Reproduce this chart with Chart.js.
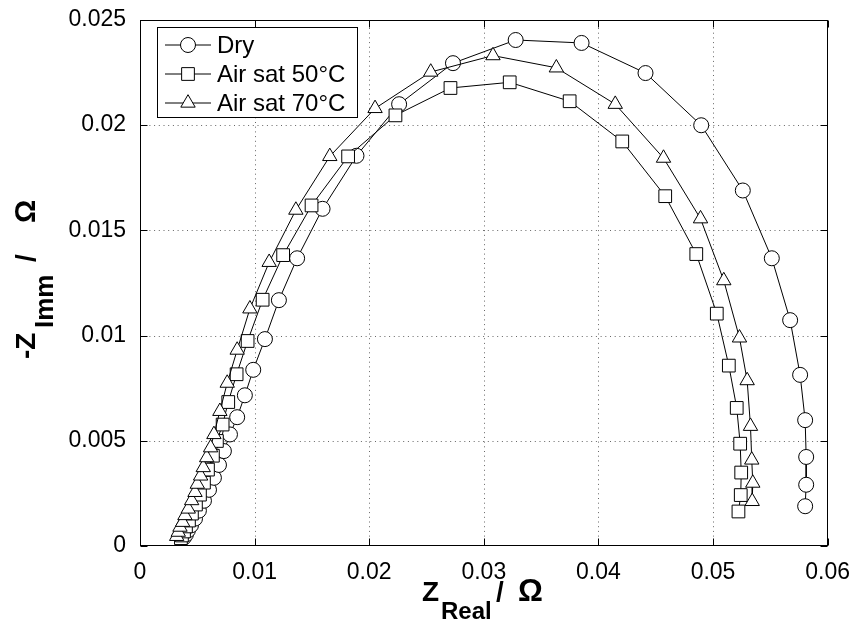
<!DOCTYPE html>
<html>
<head>
<meta charset="utf-8">
<title>Nyquist plot</title>
<script src="https://cdn.jsdelivr.net/npm/chart.js@4"></script>
<style>
  body { margin: 0; background: #fff; }
  #wrap { width: 855px; height: 626px; }
</style>
</head>
<body>
<div id="wrap"><canvas id="nyquist" width="855" height="626"></canvas></div>
<script>

// =============================
// Data
// =============================

const seriesLabels = ['Dry', 'Air sat 50°C', 'Air sat 70°C'];

const dryX = [0.00384, 0.00401, 0.00418, 0.00445, 0.0048, 0.00514, 0.00558, 0.00602, 0.00645, 0.00689, 0.00732, 0.00785,
    0.00848, 0.00915, 0.00988, 0.0109, 0.01212, 0.01371, 0.01593, 0.01889, 0.02261, 0.02731, 0.03278, 0.03853,
    0.04411, 0.04897, 0.0526, 0.05513, 0.05673, 0.0576, 0.05804, 0.05813, 0.05813, 0.05804];
const dryY = [0.00041, 0.00055, 0.00074, 0.00098, 0.0013, 0.00168, 0.00215, 0.00267, 0.00324, 0.00385, 0.00451, 0.0053,
    0.00612, 0.00716, 0.00837, 0.00983, 0.01168, 0.01367, 0.01602, 0.01854, 0.02099, 0.02294, 0.02404, 0.0239,
    0.02247, 0.01999, 0.01689, 0.01367, 0.01073, 0.00813, 0.00598, 0.00423, 0.00291, 0.00189];

const sat50X = [0.00357, 0.00366, 0.00384, 0.00401, 0.00427, 0.00453, 0.00488, 0.00523, 0.00558, 0.00593, 0.00636, 0.00671,
    0.00721, 0.0077, 0.00843, 0.00939, 0.0107, 0.01249, 0.01497, 0.01816, 0.02229, 0.02709, 0.03226, 0.03749,
    0.04208, 0.04583, 0.04854, 0.05033, 0.05138, 0.05207, 0.05237, 0.05246, 0.05242, 0.05222];
const sat50Y = [0.00037, 0.0005, 0.00069, 0.00093, 0.00121, 0.00154, 0.00197, 0.00244, 0.00301, 0.00363, 0.00429, 0.00499,
    0.00577, 0.00684, 0.00816, 0.00974, 0.0117, 0.01382, 0.01618, 0.01851, 0.02046, 0.02176, 0.02203, 0.02113,
    0.01922, 0.01662, 0.01387, 0.01104, 0.00857, 0.00656, 0.00486, 0.00349, 0.00242, 0.00164];

const sat70X = [0.0032, 0.00334, 0.00349, 0.00372, 0.00392, 0.00421, 0.00451, 0.0048, 0.005, 0.00529, 0.00552, 0.00582,
    0.00616, 0.00645, 0.00697, 0.00761, 0.00848, 0.00959, 0.01127, 0.0136, 0.01656, 0.02051, 0.02537, 0.0308,
    0.03633, 0.04147, 0.04568, 0.04891, 0.05094, 0.05231, 0.05298, 0.05327, 0.05338, 0.05347, 0.05342];
const sat70Y = [0.00046, 0.00066, 0.0009, 0.00113, 0.00145, 0.00176, 0.00216, 0.00255, 0.00294, 0.00333, 0.00373, 0.0042,
    0.00467, 0.0053, 0.0064, 0.00774, 0.00931, 0.01127, 0.01348, 0.01596, 0.01851, 0.02079, 0.02252, 0.0233,
    0.02272, 0.02099, 0.01843, 0.01555, 0.01261, 0.00989, 0.00786, 0.00569, 0.00409, 0.00299, 0.00212];

const xTickValues = [0, 0.01, 0.02, 0.03, 0.04, 0.05, 0.06];
const xTickLabels = ['0', '0.01', '0.02', '0.03', '0.04', '0.05', '0.06'];
const yTickValues = [0, 0.005, 0.01, 0.015, 0.02, 0.025];
const yTickLabels = ['0', '0.005', '0.01', '0.015', '0.02', '0.025'];


// =============================
// Helpers
// =============================

const FONT = '"Liberation Sans", Arial, Helvetica, sans-serif';

function toPoints(xs, ys) {
    return xs.map((x, i) => ({ x: x, y: ys[i] }));
}

function makeDataset(label, xs, ys, style, radius, order) {
    return {
        label: label,
        data: toPoints(xs, ys),
        showLine: true,
        borderColor: '#000',
        borderWidth: 1,
        tension: 0,
        pointStyle: style,
        pointRadius: radius,
        pointHoverRadius: radius,
        pointBackgroundColor: '#fff',
        pointBorderColor: '#000',
        pointBorderWidth: 1,
        order: order // last series drawn on top, like matlab
    };
}

function drawMarker(ctx, style, x, y, r) {
    ctx.beginPath();
    if (style === 'circle') {
        ctx.arc(x, y, r, 0, Math.PI * 2);
    } else if (style === 'rect') {
        const s = r * Math.SQRT1_2;
        ctx.rect(x - s, y - s, 2 * s, 2 * s);
    } else {
        ctx.moveTo(x, y - r);
        ctx.lineTo(x + 0.866 * r, y + 0.5 * r);
        ctx.lineTo(x - 0.866 * r, y + 0.5 * r);
        ctx.closePath();
    }
    ctx.fillStyle = '#fff';
    ctx.fill();
    ctx.stroke();
}

// pieces: [text, font size, baseline shift, offset from start]
function drawTitle(ctx, parts, x, y) {
    parts.forEach(p => {
        ctx.font = 'bold ' + p[1] + 'px ' + FONT;
        ctx.fillText(p[0], x + p[3], y + p[2]);
    });
}


// =============================
// Grid (dotted), box, inward ticks, legend, axis titles
// =============================

const gridPlugin = {
    id: 'dottedGrid',
    beforeDatasetsDraw(chart) {
        const ctx = chart.ctx;
        const a = chart.chartArea;
        ctx.save();
        ctx.strokeStyle = '#666';
        ctx.lineWidth = 1;
        ctx.setLineDash([1, 3.7]);
        ctx.beginPath();
        xTickValues.slice(1, -1).forEach(v => {
            const px = Math.round(chart.scales.x.getPixelForValue(v)) + 0.5;
            ctx.moveTo(px, a.bottom);
            ctx.lineTo(px, a.top);
        });
        yTickValues.slice(1, -1).forEach(v => {
            const py = Math.round(chart.scales.y.getPixelForValue(v)) + 0.5;
            ctx.moveTo(a.left, py);
            ctx.lineTo(a.right, py);
        });
        ctx.stroke();
        ctx.restore();
    }
};

const decorPlugin = {
    id: 'decor',
    afterDraw(chart) {
        const ctx = chart.ctx;
        const a = chart.chartArea;
        const xs = chart.scales.x;
        const ys = chart.scales.y;
        const tl = 7;

        ctx.save();
        ctx.strokeStyle = '#000';
        ctx.lineWidth = 1;

        const L = Math.round(a.left) + 0.5, R = Math.round(a.right) - 0.5;
        const T = Math.round(a.top) + 0.5, B = Math.round(a.bottom) - 0.5;
        ctx.strokeRect(L, T, R - L, B - T);

        ctx.beginPath();
        xTickValues.forEach(v => {
            const px = Math.round(xs.getPixelForValue(v)) + 0.5;
            ctx.moveTo(px, B); ctx.lineTo(px, B - tl);
            ctx.moveTo(px, T); ctx.lineTo(px, T + tl);
        });
        yTickValues.forEach(v => {
            const py = Math.round(ys.getPixelForValue(v)) + 0.5;
            ctx.moveTo(L, py); ctx.lineTo(L + tl, py);
            ctx.moveTo(R, py); ctx.lineTo(R - tl, py);
        });
        ctx.stroke();

        // legend
        const box = { x: 157.5, y: 27.5, w: 200, h: 90 };
        ctx.fillStyle = '#fff';
        ctx.fillRect(box.x, box.y, box.w, box.h);
        ctx.strokeRect(box.x, box.y, box.w, box.h);
        chart.data.datasets.forEach((ds, i) => {
            const ry = 45 + i * 29;
            ctx.beginPath();
            ctx.moveTo(165, ry);
            ctx.lineTo(211, ry);
            ctx.stroke();
            drawMarker(ctx, ds.pointStyle, 188, ry, ds.pointRadius);
            ctx.fillStyle = '#000';
            ctx.font = '24px ' + FONT;
            ctx.textBaseline = 'middle';
            ctx.textAlign = 'left';
            ctx.fillText(ds.label, 217, ry + 1);
        });

        // axis titles with subscripts
        ctx.fillStyle = '#000';
        ctx.textBaseline = 'alphabetic';
        ctx.textAlign = 'left';
        drawTitle(ctx, [['Z', 28, 0, 0], ['Real', 24, 18, 19], ['/', 28, 0, 74], ['Ω', 31, 0, 96]], 422, 601);

        ctx.translate(35, 359);
        ctx.rotate(-Math.PI / 2);
        drawTitle(ctx, [['-Z', 28, 0, 0], ['Imm', 26, 18, 31], ['/', 28, 0, 97], ['Ω', 29, 0, 136]], 0, 0);

        ctx.restore();
    }
};


// =============================
// Chart
// =============================

new Chart(document.getElementById('nyquist'), {
    type: 'scatter',
    data: {
        datasets: [
            makeDataset(seriesLabels[0], dryX, dryY, 'circle', 7.5, 2),
            makeDataset(seriesLabels[1], sat50X, sat50Y, 'rect', 9, 1),
            makeDataset(seriesLabels[2], sat70X, sat70Y, 'triangle', 8.3, 0)
        ]
    },
    options: {
        responsive: false,
        animation: false,
        layout: {
            padding: { left: 0, right: 27, top: 16, bottom: 0 }
        },
        plugins: {
            legend: { display: false },
            tooltip: { enabled: false }
        },
        scales: {
            x: {
                type: 'linear',
                min: 0,
                max: 0.06,
                afterBuildTicks: s => { s.ticks = xTickValues.map(v => ({ value: v })); },
                afterFit: s => { s.height = 80; },
                ticks: {
                    callback: (v, i) => xTickLabels[i],
                    color: '#000',
                    padding: 5,
                    maxRotation: 0,
                    font: { family: FONT, size: 23 }
                },
                grid: { display: false },
                border: { display: false }
            },
            y: {
                type: 'linear',
                min: 0,
                max: 0.025,
                afterBuildTicks: s => { s.ticks = yTickValues.map(v => ({ value: v })); },
                afterFit: s => { s.width = 140; },
                ticks: {
                    callback: (v, i) => yTickLabels[i],
                    color: '#000',
                    padding: 6,
                    font: { family: FONT, size: 23 }
                },
                grid: { display: false },
                border: { display: false }
            }
        }
    },
    plugins: [gridPlugin, decorPlugin]
});

</script>
</body>
</html>
